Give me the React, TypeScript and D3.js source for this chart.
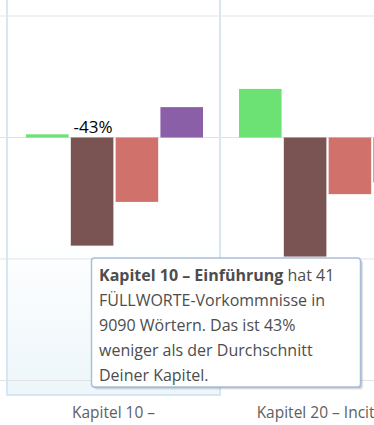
import React from 'react';
import * as d3 from 'd3';

// categories (chapters) and the first line of each wrapped axis label
const categories = ['Kapitel 10 – Einführung', 'Kapitel 20 – Inciting Incident'];
const categoryLabels = ['Kapitel 10 –', 'Kapitel 20 – Inciting'];

// deviation from chapter average, in percent
const seriesNames = ['Adverbien', 'FÜLLWORTE', 'Passiv', 'Wiederholungen'];
const seriesColors = ['#6ce174', '#7a5353', '#d1716b', '#8a5fa8'];
const adverbien = [1.3, 20];
const fuellworte = [-44.5, -49];
const passiv = [-26.5, -23.3];
const wiederholungen = [12.5, -18.5];
const fuellworteLabels = ['-43%', null];

const yTicks = [-100, -50, 0, 50];

const W = 374;
const H = 425;

export default function App() {
  const seriesValues = [adverbien, fuellworte, passiv, wiederholungen];

  const x = d3.scaleBand().domain(categories).range([7, 433]).padding(0);
  const xInner = d3.scaleBand().domain(seriesNames).range([19, 196]).paddingInner(0.05).paddingOuter(0);
  const y = d3.scaleLinear().domain([-100, 50]).range([380.5, 16]);

  const hx = x(categories[0]) as number;

  const tipLines = [
    [{ t: 'Kapitel 10 – Einführung', b: true }, { t: ' hat 41', b: false }],
    [{ t: 'FÜLLWORTE-Vorkommnisse in', b: false }],
    [{ t: '9090 Wörtern. Das ist 43%', b: false }],
    [{ t: 'weniger als der Durchschnitt', b: false }],
    [{ t: 'Deiner Kapitel.', b: false }],
  ];
  const tip = { x: 91.5, y: 258, w: 269, h: 129 };

  return (
    <svg width={W} height={H} style={{ position: 'absolute', left: 0, top: 0, fontFamily: '"Open Sans", sans-serif' }}>
      <defs>
        <linearGradient id="band" x1="0" y1="0" x2="0" y2="1">
          <stop offset="0" stopColor="#ffffff" />
          <stop offset="0.6" stopColor="#ffffff" />
          <stop offset="1" stopColor="#edf6fa" />
        </linearGradient>
      </defs>
      <rect width={W} height={H} fill="#fff" />

      {/* hovered category band */}
      <rect x={hx} y={-3} width={x.bandwidth()} height={398} fill="url(#band)" stroke="#d4e7f2" strokeWidth={2} />

      {yTicks.map((t) => (
        <line key={t} x1={0} x2={W} y1={y(t)} y2={y(t)} stroke="#e3e3e3" strokeWidth={1} />
      ))}

      {categories.map((c, ci) => (
        <g key={c} transform={`translate(${x(c)},0)`}>
          {seriesNames.map((s, si) => {
            const v = seriesValues[si][ci];
            const y0 = y(Math.max(0, v));
            const y1 = y(Math.min(0, v));
            return (
              <rect key={s} x={xInner(s)} y={y0} width={xInner.bandwidth()} height={Math.max(1, y1 - y0)} fill={seriesColors[si]} />
            );
          })}
        </g>
      ))}

      {categories.map((c, ci) =>
        fuellworteLabels[ci] ? (
          <text
            key={c}
            x={(x(c) as number) + (xInner('FÜLLWORTE') as number) + xInner.bandwidth() / 2 + 1}
            y={y(0) - 4.5}
            textAnchor="middle"
            fontSize={17}
            fill="#000"
            stroke="#fff"
            strokeWidth={2}
            paintOrder="stroke"
            strokeLinejoin="round"
          >
            {fuellworteLabels[ci]}
          </text>
        ) : null
      )}

      {categories.map((c, ci) => (
        <text key={c} x={(x(c) as number) + x.bandwidth() / 2} y={418} textAnchor="middle" fontSize={15.5} fill="#606060">
          {categoryLabels[ci]}
        </text>
      ))}

      {/* tooltip */}
      <g>
        <rect x={tip.x + 3} y={tip.y + 3} width={tip.w} height={tip.h} rx={3} fill="#000" opacity={0.05} />
        <rect x={tip.x + 2} y={tip.y + 2} width={tip.w} height={tip.h} rx={3} fill="#000" opacity={0.1} />
        <rect x={tip.x + 1} y={tip.y + 1} width={tip.w} height={tip.h} rx={3} fill="#000" opacity={0.15} />
        <rect x={tip.x} y={tip.y} width={tip.w} height={tip.h} rx={3} fill="#fff" stroke="#a9bedb" strokeWidth={1.5} />
        {tipLines.map((line, i) => (
          <text key={i} x={tip.x + 7.5} y={tip.y + 23 + i * 25} fontSize={16} fill="#4d4d4d">
            {line.map((p, j) => (
              <tspan key={j} fontWeight={p.b ? 'bold' : 'normal'}>{p.t}</tspan>
            ))}
          </text>
        ))}
      </g>
    </svg>
  );
}
